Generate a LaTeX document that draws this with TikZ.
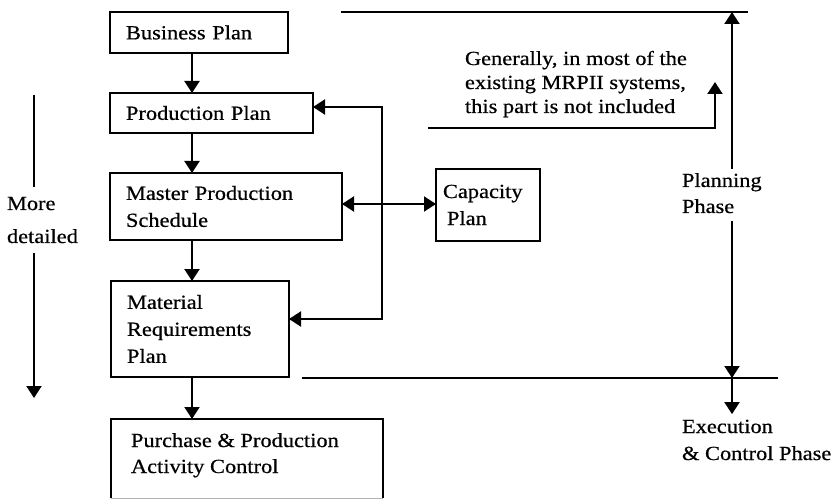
\documentclass[tikz,border=0pt]{standalone}
\usepackage{fontspec}
\setmainfont{Liberation Serif}[FakeStretch=1.12, FakeBold=0.6]
\usetikzlibrary{arrows.meta}
% multi-line label whose baseline is the baseline of its first line
\newcommand{\txtlines}[1]{\begin{tabular}[t]{@{}l@{}}#1\end{tabular}}

\begin{document}
\begin{tikzpicture}[x=1pt,y=-1pt,
  every node/.style={font=\fontsize{20}{27}\selectfont, inner sep=0pt, outer sep=0pt},
  box/.style={draw, line width=2.2pt, align=left, inner xsep=16pt, anchor=north west},
  tip/.style={-{Triangle[width=15pt,length=12pt]}},
  tipboth/.style={{Triangle[width=15pt,length=12pt]}-{Triangle[width=15pt,length=12pt]}},
  conn/.style={line width=2pt},
  rule/.style={line width=2.2pt}
]
\useasboundingbox (0,0) rectangle (836,500);

% planning hierarchy
\node[box, text width=146pt, minimum height=41pt] (bp) at (110,12) {Business Plan};
\node[box, text width=171pt, minimum height=40pt] (pp) at (110,93) {Production Plan};
\node[box, text width=200pt, minimum height=67pt] (mps) at (110,173) {Master Production\\Schedule};
\node[box, text width=146pt, minimum height=96pt] (mrp) at (111,281) {Material\\Requirements\\Plan};
\node[box, inner xsep=7pt, text width=90pt, minimum height=72pt] (cap) at (436,169) {Capacity\\\hspace*{4pt}Plan};

% execution box, running off the lower edge
\node[minimum width=272pt, minimum height=79pt, anchor=north west] (pac) at (111,419) {};
\draw[line width=2.2pt] (pac.south west) -- (pac.north west) -- (pac.north east) -- (pac.south east);
\draw[gray!60, line width=0.8pt] (pac.south west) -- (pac.south east);
\node[anchor=base west, font=\fontsize{20}{26}\selectfont] (pact) at (131,447)
  {\txtlines{Purchase \& Production\\Activity Control}};

% main flow
\coordinate (col) at (192,0);
\draw[conn,tip] (bp.south -| col) -- (pp.north -| col);
\draw[conn,tip] (pp.south -| col) -- (mps.north -| col);
\draw[conn,tip] (mps.south -| col) -- (mrp.north -| col);
\draw[conn,tip] (mrp.south -| col) -- (pac.north -| col);

% feedback loop and capacity link
\coordinate (fbt) at (382,107);
\coordinate (fbb) at (382,319);
\draw[conn,tipboth] (pp.east |- fbt) -- (fbt) -- (fbb) -- (mrp.east |- fbb);
\coordinate (mc) at (0,204);
\draw[conn,tipboth] (mps.east |- mc) -- (cap.west |- mc);

% phase boundaries
\coordinate (tl) at (341,12);
\coordinate (tr) at (748,12);
\draw[rule] (tl) -- (tr);
\coordinate (ml) at (302,378);
\coordinate (mr) at (778,378);
\draw[rule] (ml) -- (mr);

\coordinate (ax) at (732,0);
\node[anchor=base west, font=\fontsize{20}{26}\selectfont] (plan) at (682,187) {\txtlines{Planning\\Phase}};
\node[anchor=base west, font=\fontsize{20}{27}\selectfont] (exe) at (682,433) {\txtlines{Execution\\\& Control Phase}};
\draw[conn,tip] (ax |- plan.north) -- (ax |- tl);
\draw[conn,tip] (ax |- plan.south) -- (ax |- ml);
\draw[conn,tip] (ax |- ml) -- (ax |- exe.north);

% note on MRPII coverage
\node[anchor=base west, font=\fontsize{20}{24}\selectfont] (note) at (465,65)
  {\txtlines{Generally, in most of the\\existing MRPII systems,\\this part is not included}};
\coordinate (n1) at (428,128);
\coordinate (n2) at (715,128);
\coordinate (n3) at (715,82);
\draw[conn,tip] (n1) -- (n2) -- (n3);

% level of detail
\node[anchor=base west, font=\fontsize{20}{33}\selectfont] (md) at (7,210) {\txtlines{More\\detailed}};
\coordinate (mdt) at (34,95);
\coordinate (mdb) at (34,398);
\draw[conn] (mdt) -- (mdt |- md.north);
\draw[conn,tip] (mdt |- md.south) -- (mdb);
\end{tikzpicture}
\end{document}
